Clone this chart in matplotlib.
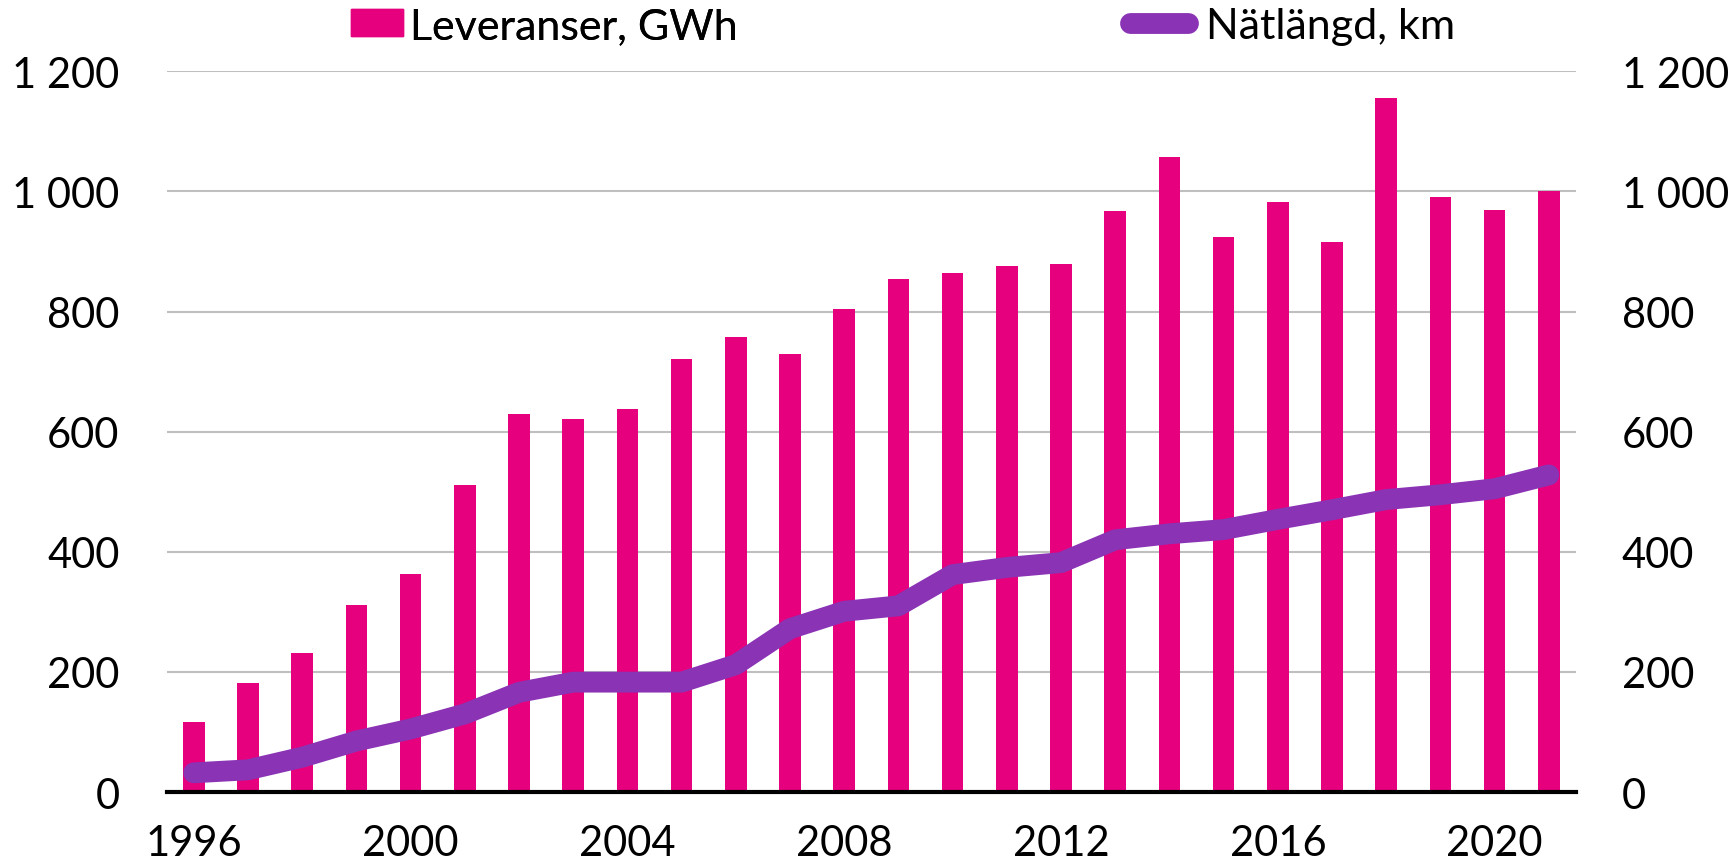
import matplotlib
matplotlib.use("Agg")
import matplotlib.pyplot as plt
from matplotlib.lines import Line2D
from matplotlib.patches import Patch
from matplotlib.ticker import FuncFormatter

##############################################################################
# Data
years = list(range(1996, 2022))
leveranser = [117, 181, 232, 311, 363, 511, 629, 621, 638, 721, 757, 729, 804,
              855, 864, 876, 879, 968, 1057, 924, 982, 915, 1156, 991, 969, 1000]
natlangd = [32, 37, 58, 85, 105, 130, 166, 183, 183, 183, 212, 272, 301,
            310, 362, 374, 382, 420, 430, 437, 454, 470, 487, 495, 505, 528]
year_ticks = [1996, 2000, 2004, 2008, 2012, 2016, 2020]
y_ticks = [0, 200, 400, 600, 800, 1000, 1200]

label_bar = "Leveranser, GWh"
label_line = "Nätlängd, km"

pink = "#E6007E"
purple = "#8A33B4"

plt.rcParams['font.family'] = ['Lato', 'DejaVu Sans']

def space_thousands(v, pos):
    return f"{int(v):,}".replace(",", " ")

##############################################################################
fig = plt.figure(figsize=(17.36, 8.62), dpi=100)
ax = fig.add_axes([0.0960, 0.0800, 0.8118, 0.8361])

ax.bar(years, leveranser, width=0.4, color=pink, zorder=2)
ax.set_xlim(1995.5, 2021.5)
ax.set_ylim(0, 1200)
ax.set_yticks(y_ticks)
ax.yaxis.set_major_formatter(FuncFormatter(space_thousands))
ax.set_xticks(year_ticks)
ax.grid(axis="y", color="#BFBFBF", linewidth=1.5)
ax.set_axisbelow(True)
for s in ["top", "left", "right"]:
    ax.spines[s].set_visible(False)
ax.spines["bottom"].set_linewidth(3)
ax.spines["bottom"].set_color("black")
ax.spines["bottom"].set_zorder(3)
ax.tick_params(axis="both", length=0, labelsize=30)
ax.tick_params(axis="y", pad=34)
ax.tick_params(axis="x", pad=23)

# Secondary axis for the network length
ax2 = ax.twinx()
ax2.plot(years, natlangd, color=purple, linewidth=15,
         solid_capstyle="round", solid_joinstyle="round", zorder=3)
ax2.set_ylim(0, 1200)
ax2.set_yticks(y_ticks)
ax2.yaxis.set_major_formatter(FuncFormatter(space_thousands))
for s in ax2.spines.values():
    s.set_visible(False)
ax2.tick_params(axis="y", length=0, labelsize=30, pad=33)

# Legends at the top
leg1 = fig.legend(handles=[Patch(color=pink, label=label_bar)],
                  loc="center left", bbox_to_anchor=(0.2022, 0.969),
                  frameon=False, fontsize=31, borderpad=0, borderaxespad=0,
                  handlelength=1.2, handleheight=0.6, handletextpad=0.18)
fig.legend(handles=[Line2D([], [], color=purple, linewidth=15,
                           solid_capstyle="round", label=label_line)],
           loc="center left", bbox_to_anchor=(0.6512, 0.969),
           frameon=False, fontsize=31, borderpad=0, borderaxespad=0,
           handlelength=1.33, handletextpad=0.42)
fig.add_artist(leg1)

fig.savefig("out.png", dpi=100)
